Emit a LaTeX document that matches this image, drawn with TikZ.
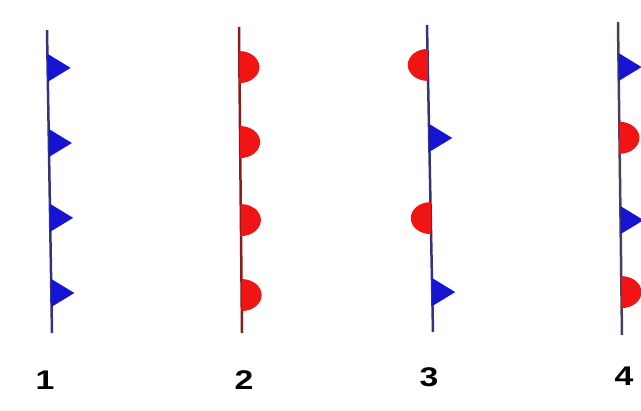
\documentclass[tikz,border=0pt]{standalone}
\usepackage{fontspec}
\setmainfont{Liberation Sans}
\usetikzlibrary{calc}

\definecolor{coldblue}{HTML}{1414D2}
\definecolor{warmred}{HTML}{F01414}
\definecolor{lineblue}{HTML}{34347E}
\definecolor{linered}{HTML}{8A1C1C}
\definecolor{linepurple}{HTML}{4A3E58}

\newcommand{\wide}[1]{\scalebox{1.25}[1]{#1}}

\tikzset{
  front/.style={line width=2.5pt},
  num/.style={font=\fontsize{27}{32}\selectfont\bfseries},
  cold/.pic={\fill[coldblue] (0,-14) -- (23,0) -- (0,14) -- cycle;},
  warm/.pic={\fill[warmred] (0,-16) arc (-90:90:20 and 16) -- cycle;},
  warm left/.pic={\fill[warmred] (0,-16) arc (270:90:20 and 16) -- cycle;}
}

\begin{document}
\begin{tikzpicture}[x=1pt,y=-1pt]
\useasboundingbox[fill=white] (0,0) rectangle (641,411);
\coordinate (t1) at (47,30);
\coordinate (b1) at (52,333);
\coordinate (t2) at (239,27);
\coordinate (b2) at (242,333);
\coordinate (t3) at (427,25);
\coordinate (b3) at (433,332);
\coordinate (t4) at (618,22);
\coordinate (b4) at (622,335);
\draw[front,lineblue] (t1) -- (b1);
\draw[front,linered] (t2) -- (b2);
\draw[front,lineblue] (t3) -- (b3);
\draw[front,linepurple] (t4) -- (b4);
% markers along the fronts
\foreach \t in {.125,.373,.62,.868}
  \pic at ($(t1)!\t!(b1)$) {cold};
\foreach \t in {.131,.376,.631,.876}
  \pic at ($(t2)!\t!(b2)$) {warm};
\foreach \t/\mk in {.13/warm left,.368/cold,.629/warm left,.87/cold}
  \pic at ($(t3)!\t!(b3)$) {\mk};
\foreach \t/\mk in {.144/cold,.37/warm,.633/cold,.863/warm}
  \pic at ($(t4)!\t!(b4)$) {\mk};
\node[num] (n1) at (45,380) {\wide{1}};
\node[num] (n2) at (244,380) {\wide{2}};
\node[num] (n3) at (429,377) {\wide{3}};
\node[num] (n4) at (624,376) {\wide{4}};
\end{tikzpicture}
\end{document}
